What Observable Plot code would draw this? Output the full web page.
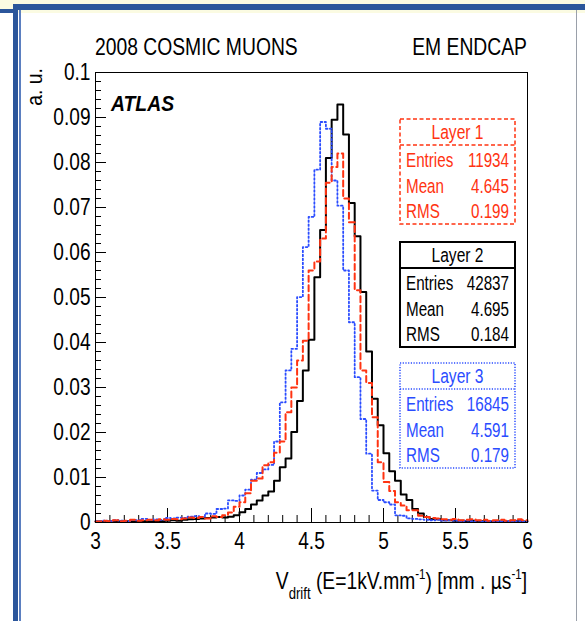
<!DOCTYPE html>
<html><head><meta charset="utf-8">
<script src="https://cdn.jsdelivr.net/npm/d3@7"></script>
<script src="https://cdn.jsdelivr.net/npm/@observablehq/plot@0.6"></script>
<style>
html,body{margin:0;padding:0;background:#fff;}
#wrap{position:relative;width:585px;height:621px;overflow:hidden;background:#fff;}
.deco{position:absolute;}
#chart{position:absolute;left:0;top:0;}
</style></head><body>
<div id="wrap">
  <div class="deco" style="left:0;top:0;width:585px;height:13px;background:#fbfbe2"></div>
  <div class="deco" style="left:13px;top:4px;width:572px;height:6px;background:#2b569b"></div>
  <div class="deco" style="left:0;top:9px;width:14px;height:4px;background:#2b569b"></div>
  <div class="deco" style="left:13px;top:9px;width:5px;height:612px;background:#2b569b"></div>
  <div class="deco" style="left:19px;top:10px;width:2px;height:611px;background:#5b7fc0"></div>
  <div class="deco" style="left:576px;top:10px;width:1px;height:611px;background:#9aa0aa"></div>
  <div id="chart"></div>
</div>
<script>
// ---- data (histogram, bin width 0.04 from 3.00 to 6.00, 75 bins) ----
const binStart = 3.0;
const binWidth = 0.04;
const layer1 = [ // red dashed
  0.0002,0.0004,0.0003,0.0005,0.0003,0.0004,0.0006,0.0004,0.0005,0.0006,0.0005,0.0007,
  0.0006,0.0008,0.0007,0.0009,0.0011,0.0010,0.0012,0.0009,0.0014,0.0012,0.0016,0.0022,0.0035,
  0.0045,0.0065,0.0093,0.0098,0.0127,
  0.0134,0.0155,0.0180,0.0245,0.0300,
  0.0360,0.0404,0.0560,0.0580,0.0631,
  0.0755,0.0790,0.0820,0.0720,0.0667,
  0.0516,0.0338,0.0310,0.0234,0.0134,
  0.0090,0.0070,0.0045,0.0038,0.0027,
  0.0027,
  0.0015,0.0012,0.0010,0.0009,0.0007,0.0006,0.0008,0.0005,0.0006,0.0007,0.0005,0.0006,0.0004,0.0005,0.0006,0.0004,0.0005,0.0007,0.0005
];
const layer2 = [ // black solid
  0.0002,0.0001,0.0002,0.0001,0.0002,0.0003,0.0002,0.0001,0.0003,0.0002,0.0003,0.0003,
  0.0004,0.0005,0.0004,0.0006,0.0007,0.0008,0.0009,0.0010,0.0011,0.0012,0.0011,0.0013,0.0016,
  0.0023,0.0030,0.0040,0.0049,0.0060,
  0.0069,0.0093,0.0123,0.0142,0.0201,
  0.0270,0.0338,0.0406,0.0545,0.0650,
  0.0810,0.0895,0.0929,0.0862,0.0710,
  0.0636,0.0512,0.0380,0.0275,0.0216,
  0.0154,0.0114,0.0093,0.0062,0.0050,
  0.0030,
  0.0020,0.0012,0.0008,0.0007,0.0005,0.0005,0.0004,0.0004,0.0003,0.0004,0.0003,0.0003,0.0002,0.0003,0.0002,0.0002,0.0004,0.0003,0.0002
];
const layer3 = [ // blue dotted
  0.0003,0.0004,0.0003,0.0005,0.0004,0.0003,0.0006,0.0005,0.0008,0.0006,0.0007,0.0006,
  0.0010,0.0009,0.0011,0.0010,0.0013,0.0014,0.0012,0.0020,0.0019,0.0030,0.0031,0.0049,0.0048,
  0.0060,0.0073,0.0095,0.0110,0.0118,
  0.0128,0.0180,0.0267,0.0338,0.0386,
  0.0501,0.0612,0.0679,0.0784,0.0890,
  0.0875,0.0760,0.0704,0.0560,0.0445,
  0.0323,0.0230,0.0153,0.0071,0.0050,
  0.0045,0.0040,0.0016,0.0015,0.0009,
  0.0008,
  0.0007,0.0006,0.0005,0.0006,0.0004,0.0005,0.0004,0.0003,0.0004,0.0003,0.0004,0.0002,0.0003,0.0003,0.0002,0.0003,0.0002,0.0003,0.0002
];
const layerNames = ["Layer 1", "Layer 2", "Layer 3"];
const entries = ["11934", "42837", "16845"];
const means = ["4.645", "4.695", "4.591"];
const rmss = ["0.199", "0.184", "0.179"];
const statLabels = ["Entries", "Mean", "RMS"];
const xTicks = [3, 3.5, 4, 4.5, 5, 5.5, 6];
const xTickLabels = ["3", "3.5", "4", "4.5", "5", "5.5", "6"];
const yTicks = [0, 0.01, 0.02, 0.03, 0.04, 0.05, 0.06, 0.07, 0.08, 0.09, 0.1];
const yTickLabels = ["0", "0.01", "0.02", "0.03", "0.04", "0.05", "0.06", "0.07", "0.08", "0.09", "0.1"];
const titleLeft = "2008 COSMIC MUONS";
const titleRight = "EM ENDCAP";
const yLabel = "a. u.";

// ---- build tables ----
function steps(vals) {
  const pts = vals.map((v, i) => ({x: binStart + i * binWidth, y: v}));
  pts.push({x: binStart + vals.length * binWidth, y: vals[vals.length - 1]});
  return pts;
}
const d1 = steps(layer1), d2 = steps(layer2), d3s = steps(layer3);
const xMinor = d3.range(0, 31).map(i => 3 + i * 0.1);
const yMinor = d3.range(0, 51).map(i => i * 0.002);

const RED = "#ff3311", BLUE = "#2a4cff";
const W = 585, H = 621, ML = 95, MR = 58, MT = 72, MB = 99;
const PW = W - ML - MR, PH = H - MT - MB;

const svg = Plot.plot({
  width: W, height: H,
  marginLeft: ML, marginRight: MR, marginTop: MT, marginBottom: MB,
  style: {background: "transparent", fontFamily: "'Liberation Sans', Arial, sans-serif", fontSize: "23px", color: "black"},
  x: {domain: [3, 6]},
  y: {domain: [0, 0.1]},
  marks: [
    Plot.tickX(xMinor, {x: d => d, stroke: "black", strokeWidth: 1, insetTop: PH - 7}),
    Plot.tickX(xTicks, {x: d => d, stroke: "black", strokeWidth: 1, insetTop: PH - 14}),
    Plot.tickY(yMinor, {y: d => d, stroke: "black", strokeWidth: 1, insetRight: PW - 6}),
    Plot.tickY(yTicks, {y: d => d, stroke: "black", strokeWidth: 1, insetRight: PW - 11}),
    Plot.axisX(xTicks, {tickSize: 0, tickPadding: 10, fontSize: 23, tickFormat: d => xTickLabels[xTicks.indexOf(d)], label: null}),
    Plot.axisY(yTicks, {tickSize: 0, tickPadding: 5, fontSize: 23, tickFormat: d => yTickLabels[yTicks.indexOf(d)], label: null}),
    Plot.lineY(d2, {x: "x", y: "y", curve: "step-after", stroke: "black", strokeWidth: 2}),
    Plot.lineY(d3s, {x: "x", y: "y", curve: "step-after", stroke: BLUE, strokeWidth: 1.8, strokeDasharray: "1.6,2.4"}),
    Plot.lineY(d1, {x: "x", y: "y", curve: "step-after", stroke: RED, strokeWidth: 2, strokeDasharray: "6,3.5"}),
    Plot.frame({stroke: "black", strokeWidth: 1})
  ]
});
document.getElementById("chart").appendChild(svg);

// condense Plot tick labels (narrow Helvetica look)
svg.querySelectorAll("text").forEach(t => {
  const len = t.getComputedTextLength();
  if (len > 0) { t.setAttribute("textLength", len * 0.83); t.setAttribute("lengthAdjust", "spacingAndGlyphs"); }
});

const s = d3.select(svg);
const FONT = "'Liberation Sans', Arial, sans-serif";
function txt(x, y, str, opts = {}) {
  const g = s.append("g").attr("transform", `translate(${x},${y})${opts.rot ? " rotate(" + opts.rot + ")" : ""} scale(${opts.sx || 0.9},1)`);
  const t = g.append("text").attr("font-family", FONT).attr("font-size", opts.size || 21)
    .attr("fill", opts.fill || "black").attr("text-anchor", opts.anchor || "start")
    .attr("font-weight", opts.weight || "normal").attr("font-style", opts.style || "normal").text(str);
  return t;
}
txt(ML, 55, titleLeft, {size: 23, sx: 0.84});
txt(W - MR, 55, titleRight, {size: 23, sx: 0.84, anchor: "end"});
txt(111, 111, "ATLAS", {size: 22, sx: 0.88, weight: "bold", style: "italic"});
txt(42, 68, yLabel, {size: 22, rot: -90, anchor: "end", sx: 0.88});

// x label with sub/superscripts
{
  const g = s.append("g").attr("transform", `translate(${W - MR},589) scale(0.82,1)`);
  const t = g.append("text").attr("font-family", FONT).attr("font-size", 23.5).attr("text-anchor", "end");
  t.append("tspan").text("V");
  t.append("tspan").attr("font-size", 16).attr("dy", 10).text("drift");
  t.append("tspan").attr("dy", -10).text(" (E=1kV.mm");
  t.append("tspan").attr("font-size", 14).attr("dy", -10).text("-1");
  t.append("tspan").attr("dy", 10).text(") [mm . \u00b5s");
  t.append("tspan").attr("font-size", 14).attr("dy", -10).text("-1");
  t.append("tspan").attr("dy", 10).text("]");
}

// statistics boxes
const boxTops = [119, 242, 363];
const boxColors = [RED, "black", BLUE];
const boxDash = ["4,2.5", null, "1.2,1.5"];
const boxStroke = [1.5, 2, 1.5];
const bx0 = 400, bx1 = 515;
for (let i = 0; i < 3; i++) {
  const T = boxTops[i], c = boxColors[i];
  s.append("rect").attr("x", bx0).attr("y", T).attr("width", bx1 - bx0).attr("height", 105)
    .attr("fill", "white").attr("stroke", c).attr("stroke-width", boxStroke[i])
    .attr("stroke-dasharray", boxDash[i]);
  s.append("line").attr("x1", bx0).attr("x2", bx1).attr("y1", T + 26).attr("y2", T + 26)
    .attr("stroke", c).attr("stroke-width", boxStroke[i]).attr("stroke-dasharray", boxDash[i]);
  txt((bx0 + bx1) / 2, T + 20, layerNames[i], {size: 19.5, sx: 0.8, anchor: "middle", fill: c});
  const vals = [entries[i], means[i], rmss[i]];
  const rowY = [T + 48, T + 74, T + 99];
  for (let r = 0; r < 3; r++) {
    txt(bx0 + 6, rowY[r], statLabels[r], {size: 19.5, sx: 0.78, fill: c});
    txt(bx1 - 6, rowY[r], vals[r], {size: 19.5, sx: 0.78, anchor: "end", fill: c});
  }
}
</script>
</body></html>
